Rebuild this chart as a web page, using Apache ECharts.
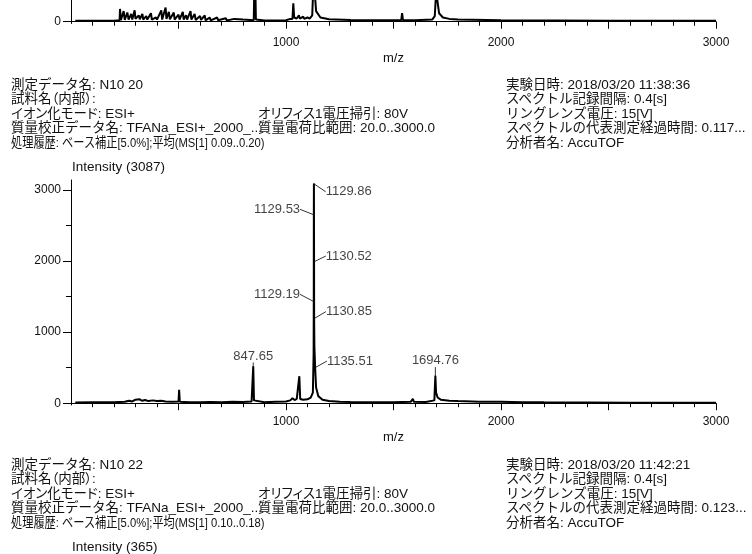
<!DOCTYPE html>
<html>
<head>
<meta charset="utf-8">
<script src="https://cdn.jsdelivr.net/npm/echarts@6/dist/echarts.min.js"></script>
<style>
    body { margin: 0; background: #fff; }
    #chart { position: absolute; left: 0; top: 0; width: 752px; height: 554px; }
    .info {
        position: absolute;
        font-family: 'Liberation Sans', 'Noto Sans CJK JP', sans-serif;
        font-size: 13.5px;
        line-height: 14.4px;
        color: #111;
        white-space: nowrap;
    }
    .p { font-feature-settings: "palt"; }
    /* 元の画面では長い行が列幅に合わせて横に詰められている */
    .narrow { display: inline-block; transform: scaleX(0.83); transform-origin: left center; }
</style>
</head>
<body>
<div id="chart"></div>

<!-- 1つ目のスペクトル情報 -->
<div class="info" style="left:11px;top:78px">測定データ名: N10 20<br><span class="p">試料名（内部）:</span><br><span class="p">イオン化モード: ESI+</span><br>質量校正データ名: TFANa_ESI+_2000_...<br><span class="narrow">処理履歴: ベース補正[5.0%];平均(MS[1] 0.09..0.20)</span></div>
<div class="info p" style="left:258px;top:106.8px">オリフィス1電圧掃引: 80V<br>質量電荷比範囲: 20.0..3000.0</div>
<div class="info" style="left:506px;top:78px">実験日時: 2018/03/20 11:38:36<br>スペクトル記録間隔: 0.4[s]<br>リングレンズ電圧: 15[V]<br>スペクトルの代表測定経過時間: 0.117...<br>分析者名: AccuTOF</div>
<div class="info" style="left:72px;top:159.5px">Intensity (3087)</div>

<!-- 2つ目のスペクトル情報 -->
<div class="info" style="left:11px;top:458px">測定データ名: N10 22<br><span class="p">試料名（内部）:</span><br><span class="p">イオン化モード: ESI+</span><br>質量校正データ名: TFANa_ESI+_2000_...<br><span class="narrow">処理履歴: ベース補正[5.0%];平均(MS[1] 0.10..0.18)</span></div>
<div class="info p" style="left:258px;top:486.8px">オリフィス1電圧掃引: 80V<br>質量電荷比範囲: 20.0..3000.0</div>
<div class="info" style="left:506px;top:458px">実験日時: 2018/03/20 11:42:21<br>スペクトル記録間隔: 0.4[s]<br>リングレンズ電圧: 15[V]<br>スペクトルの代表測定経過時間: 0.123...<br>分析者名: AccuTOF</div>
<div class="info" style="left:72px;top:539.5px">Intensity (365)</div>

<script>
// 上のスペクトル（前ページからの続き、下端のみ見えている） [m/z, intensity]
var topSpectrum = [
    [20, 12], [100, 14], [200, 15], [226, 20], [228, 180], [232, 20], [245, 150], [250, 25], [262, 130], [268, 30],
    [280, 110], [285, 30], [296, 160], [300, 40], [315, 90], [320, 35], [332, 110], [336, 30],
    [350, 80], [355, 30], [372, 120], [376, 30], [395, 60], [400, 30], [420, 160], [424, 30],
    [440, 200], [444, 40], [455, 140], [460, 35], [478, 130], [482, 30], [500, 100], [505, 30],
    [520, 140], [524, 30], [535, 90], [540, 30], [556, 150], [560, 30], [575, 110], [580, 25],
    [600, 80], [605, 25], [622, 90], [626, 20], [645, 60], [650, 20], [680, 60], [684, 20],
    [720, 50], [724, 18], [760, 40], [764, 18], [800, 30], [850, 20], [855, 900], [860, 30],
    [900, 18], [1000, 20], [1020, 40], [1030, 40], [1034, 260], [1038, 60], [1050, 45], [1060, 90],
    [1064, 45], [1080, 70], [1085, 40], [1100, 60], [1110, 45], [1122, 90], [1126, 400], [1130, 1500],
    [1134, 400], [1140, 150], [1160, 60], [1200, 35], [1300, 25], [1400, 20], [1500, 20], [1536, 22],
    [1540, 120], [1544, 22], [1600, 20], [1680, 30], [1692, 80], [1696, 300], [1700, 1100],
    [1704, 300], [1712, 120], [1730, 60], [1760, 40], [1800, 30], [2000, 20], [2500, 15], [3000, 15]
];

// 下のスペクトル (N10 20) [m/z, intensity]
var mainSpectrum = [
    [20, 10], [100, 12], [200, 14], [250, 20], [270, 35], [285, 25], [300, 50], [305, 30],
    [320, 55], [330, 35], [345, 45], [360, 30], [380, 40], [400, 30], [420, 35], [440, 25],
    [470, 20], [500, 25], [503, 190], [506, 20], [550, 15], [600, 15], [650, 18], [700, 15],
    [750, 20], [800, 18], [840, 25], [847.65, 520], [851, 40], [860, 20], [900, 15], [950, 20],
    [1000, 25], [1020, 40], [1030, 70], [1040, 45], [1050, 60], [1062, 380], [1066, 60],
    [1080, 50], [1100, 55], [1115, 80], [1125, 150], [1128.5, 700], [1129.19, 1430],
    [1129.53, 2650], [1129.86, 3087], [1130.2, 2500], [1130.52, 1990], [1130.85, 1190],
    [1132, 800], [1135.51, 500], [1140, 220], [1150, 100], [1170, 50], [1200, 30], [1250, 20],
    [1300, 18], [1400, 15], [1500, 15], [1580, 20], [1590, 60], [1595, 20], [1650, 18],
    [1690, 40], [1694.76, 385], [1698, 150], [1705, 80], [1720, 50], [1760, 35], [1800, 30],
    [1900, 22], [2000, 20], [2100, 15], [2200, 12], [2400, 10], [2600, 8], [2800, 8], [3000, 8]
];

// ピークラベル
var peakMz = [1129.86, 1129.53, 1130.52, 1129.19, 1130.85, 1135.51, 847.65, 1694.76];
var peakInt = [3087, 2650, 1990, 1430, 1190, 500, 520, 385];

// 目盛り
var xMinorTicks = [100, 200, 300, 400, 600, 700, 800, 900, 1100, 1200, 1300, 1400, 1600, 1700, 1800, 1900,
    2100, 2200, 2300, 2400, 2600, 2700, 2800, 2900];
var xMajorTicks = [500, 1000, 1500, 2000, 2500, 3000];
var xLabels = [1000, 2000, 3000];
var yMinorTicks = [500, 1500, 2500];
var yMajorTicks = [0, 1000, 2000, 3000];

var chart = echarts.init(document.getElementById('chart'));

var axisFont = { fontFamily: 'Liberation Sans', fontSize: 12, color: '#111' };
var black = { color: '#000', width: 1 };

function plain(v) { return String(v); }

function xAxes(grid, labelMargin, nameGap) {
    return [
        {
            gridIndex: grid, type: 'value', min: 0, max: 3000,
            axisLine: { lineStyle: black },
            axisTick: { customValues: xMinorTicks, length: 4, lineStyle: black },
            axisLabel: { show: false },
            splitLine: { show: false }
        },
        {
            gridIndex: grid, type: 'value', min: 0, max: 3000, position: 'bottom',
            axisLine: { show: false },
            axisTick: { customValues: xMajorTicks, length: 7, lineStyle: black },
            axisLabel: Object.assign({ customValues: xLabels, margin: labelMargin, formatter: plain }, axisFont),
            splitLine: { show: false },
            name: 'm/z', nameLocation: 'middle', nameGap: nameGap,
            nameTextStyle: { fontFamily: 'Liberation Sans', fontSize: 13, color: '#111' }
        }
    ];
}

// 上のグラフは下端しか見えないので上限を小さくして切り取る
function yAxes(grid, yMax) {
    return [
        {
            gridIndex: grid, type: 'value', min: -25, max: yMax,
            axisLine: { show: true, lineStyle: black },
            axisTick: { show: true, customValues: yMinorTicks, length: 5, lineStyle: black },
            axisLabel: { show: false },
            splitLine: { show: false }
        },
        {
            gridIndex: grid, type: 'value', min: -25, max: yMax, position: 'left',
            axisLine: { show: false },
            axisTick: { show: true, customValues: yMajorTicks, length: 8, lineStyle: black },
            axisLabel: Object.assign({ customValues: yMajorTicks, margin: 10, formatter: plain }, axisFont),
            splitLine: { show: false }
        }
    ];
}

// ラベル配置（位置, dx, dy）
var labelPlace = [
    ['right', 6, 8], ['left', -8, -5.5], ['right', 6, -5.7], ['left', -8, -7.2],
    ['right', 6, -7], ['right', 6, -6.6], ['top', 0, -1], ['top', 0, -6]
];

var peakData = [];
for (var i = 0; i < peakMz.length; i++) {
    peakData.push({
        value: [peakMz[i], peakInt[i]],
        label: { position: labelPlace[i][0], distance: labelPlace[i][0] == 'top' ? 2 : 5 }
    });
}

var option = {
    animation: false,
    grid: [
        { left: 71, right: 36, top: 0, bottom: 530.5, outerBoundsMode: 'none' },
        { left: 71, right: 36, top: 180, bottom: 149, outerBoundsMode: 'none' }
    ],
    xAxis: xAxes(0, 13, 28).concat(xAxes(1, 11, 26)),
    yAxis: yAxes(0, 306).concat(yAxes(1, 3140)),
    series: [
        {
            type: 'line', xAxisIndex: 0, yAxisIndex: 0,
            data: topSpectrum, showSymbol: false,
            lineStyle: { color: '#000', width: 2 }
        },
        {
            type: 'line', xAxisIndex: 2, yAxisIndex: 2,
            data: mainSpectrum, showSymbol: false,
            lineStyle: { color: '#000', width: 2 }
        },
        {
            type: 'scatter', xAxisIndex: 2, yAxisIndex: 2,
            data: peakData, symbolSize: 1.5,
            itemStyle: { color: '#000' },
            label: {
                show: true,
                fontFamily: 'Liberation Sans', fontSize: 13, color: '#111',
                formatter: function (p) { return p.value[0].toFixed(2); }
            },
            labelLayout: function (p) {
                return { dx: labelPlace[p.dataIndex][1], dy: labelPlace[p.dataIndex][2] };
            },
            labelLine: { show: true, lineStyle: { color: '#333', width: 1 } }
        }
    ]
};

chart.setOption(option);
</script>
</body>
</html>
